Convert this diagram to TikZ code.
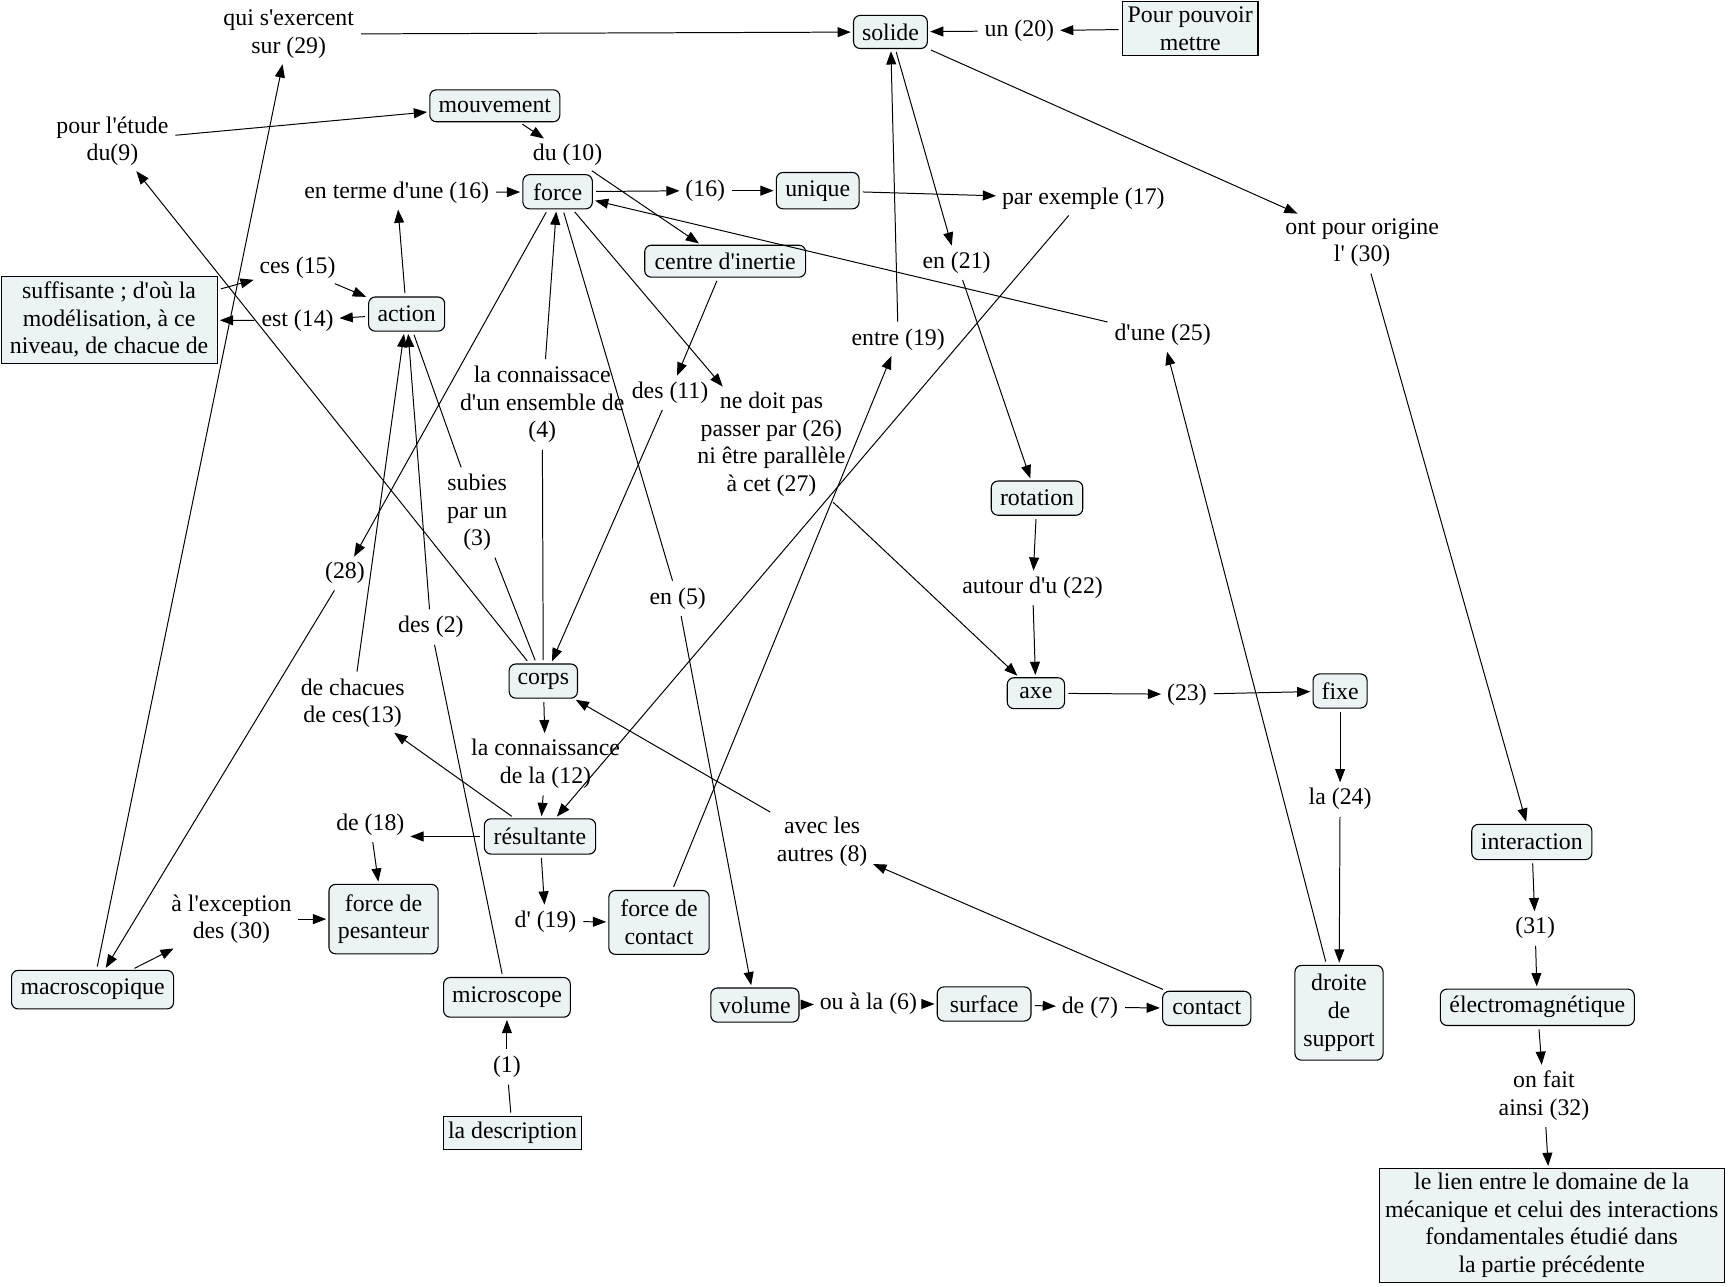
\documentclass[tikz,border=0pt]{standalone}
\usepackage{fontspec}
\setmainfont{Liberation Serif}[Ligatures=TeXOff]
\usetikzlibrary{arrows.meta}
\definecolor{boxfill}{RGB}{235,243,245}
\begin{document}
\begin{tikzpicture}[x=0.5pt,y=-0.5pt,
  every node/.style={font=\fontsize{10.8}{12.5}\selectfont, align=center, inner sep=1.5pt},
  cbox/.style={draw=black, fill=boxfill, rounded corners=3pt, line width=0.5pt, inner sep=0.5pt},
  rbox/.style={draw=black, fill=boxfill, line width=0.5pt, inner sep=0.5pt},
  arr/.style={-{Triangle[length=6pt,width=4.5pt]}, line width=0.45pt, shorten <=1.5pt, shorten >=1pt},
  ln/.style={line width=0.45pt, shorten <=1.5pt, shorten >=1.5pt}]
\path[use as bounding box, fill=white] (0,0) rectangle (1568,1167);

% concepts
\node[cbox, minimum width=33.5pt, minimum height=15pt] (solide) at (808,29) {solide};
\node[rbox, minimum width=61.5pt, minimum height=24.5pt] (pour) at (1080,26) {Pour pouvoir\\mettre};
\node[cbox, minimum width=59pt, minimum height=14.5pt] (mouv) at (449,96) {mouvement};
\node[cbox, minimum width=31.5pt, minimum height=15.5pt] (force) at (506,174) {force};
\node[cbox, minimum width=37.5pt, minimum height=16.5pt] (unique) at (742,173) {unique};
\node[cbox, minimum width=73pt, minimum height=14.5pt] (centre) at (658,237) {centre d'inertie};
\node[cbox, minimum width=34.5pt, minimum height=15.5pt] (action) at (369,285) {action};
\node[rbox, minimum width=98pt, minimum height=39.5pt] (suff) at (99,290) {suffisante ; d'où la\\modélisation, à ce\\niveau, de chacue de};
\node[cbox, minimum width=41.5pt, minimum height=15.5pt] (rot) at (941,452) {rotation};
\node[cbox, minimum width=26pt, minimum height=14pt] (axe) at (940,629) {axe};
\node[cbox, minimum width=24.5pt, minimum height=15.5pt] (fixe) at (1216,627) {fixe};
\node[cbox, minimum width=31pt, minimum height=15.5pt] (corps) at (493,618) {corps};
\node[cbox, minimum width=50.5pt, minimum height=16pt] (res) at (490,759) {résultante};
\node[cbox, minimum width=49.5pt, minimum height=31.5pt] (fdp) at (348,834) {force de\\pesanteur};
\node[cbox, minimum width=45.5pt, minimum height=29pt] (fdc) at (598,837) {force de\\contact};
\node[cbox, minimum width=73.5pt, minimum height=17.5pt] (macro) at (84,898) {macroscopique};
\node[cbox, minimum width=57.5pt, minimum height=18pt] (micro) at (460,905) {microscope};
\node[rbox, minimum width=62.5pt, minimum height=15pt] (desc) at (465,1028) {la description};
\node[cbox, minimum width=40pt, minimum height=15.5pt] (volume) at (685,912) {volume};
\node[cbox, minimum width=42.5pt, minimum height=15.5pt] (surface) at (893,911) {surface};
\node[cbox, minimum width=40pt, minimum height=15.5pt] (contact) at (1095,915) {contact};
\node[cbox, minimum width=40pt, minimum height=43pt] (droite) at (1215,919) {droite\\de\\support};
\node[cbox, minimum width=54.5pt, minimum height=16pt] (inter) at (1390,764) {interaction};
\node[cbox, minimum width=88pt, minimum height=16.5pt] (electro) at (1395,914) {électromagnétique};
\node[rbox, minimum width=156.5pt, minimum height=51.5pt] (lien) at (1408,1112) {le lien entre le domaine de la\\mécanique et celui des interactions\\fondamentales étudié dans\\la partie précédente};

% linking phrases
\node (l29) at (262,31) {qui s'exercent\\sur (29)};
\node (l20) at (925,28) {un (20)};
\node (l9) at (102,128) {pour l'étude\\du(9)};
\node (l10) at (515,140) {du (10)};
\node (l16a) at (360,175) {en terme d'une (16)};
\node (l16b) at (640,173) {(16)};
\node (l17) at (983,180) {par exemple (17)};
\node (l30a) at (1236,220) {ont pour origine\\l' (30)};
\node (l15) at (270,243) {ces (15)};
\node (l14) at (270,291) {est (14)};
\node (l21) at (868,238) {en (21)};
\node (l19a) at (815,308) {entre (19)};
\node (l25) at (1055,304) {d'une (25)};
\node (l4) at (492,367) {la connaissace\\d'un ensemble de\\(4)};
\node (l11) at (608,356) {des (11)};
\node (l26) at (700,403) {ne doit pas\\passer par (26)\\ni être parallèle\\à cet (27)};
\node (l3) at (433,465) {subies\\par un\\(3)};
\node (l28) at (313,520) {(28)};
\node (l5) at (615,543) {en (5)};
\node (l22) at (937,533) {autour d'u (22)};
\node (l2) at (391,569) {des (2)};
\node (l13) at (320,638) {de chacues\\de ces(13)};
\node (l23) at (1077,630) {(23)};
\node (l12) at (495,693) {la connaissance\\de la (12)};
\node (l24) at (1216,725) {la (24)};
\node (l18) at (336,748) {de (18)};
\node (l8) at (746,764) {avec les\\autres (8)};
\node (l30b) at (210,834) {à l'exception\\des (30)};
\node (l19b) at (495,836) {d' (19)};
\node (l31) at (1393,842) {(31)};
\node (l6) at (788,911) {ou à la (6)};
\node (l7) at (989,914) {de (7)};
\node (l1) at (460,968) {(1)};
\node (l32) at (1401,994) {on fait\\ainsi (32)};

% connectors
\draw[arr] (l29) -- (solide);
\draw[arr] (macro) -- (l29);
\draw[arr] (pour) -- (l20);
\draw[arr] (l20) -- (solide);
\draw[arr] (solide) -- (l30a);
\draw[arr] (l30a) -- (inter);
\draw[arr] (solide) -- (l21);
\draw[arr] (l21) -- (rot);
\draw[arr] (rot) -- (l22);
\draw[arr] (l22) -- (axe);
\draw[arr] (axe) -- (l23);
\draw[arr] (l23) -- (fixe);
\draw[arr] (fixe) -- (l24);
\draw[arr] (l24) -- (droite);
\draw[arr] (droite) -- (l25);
\draw[arr] (l25) -- (force);
\draw[arr] (fdc) -- (l19a);
\draw[arr] (l19a) -- (solide);
\draw[arr] (mouv) -- (l10);
\draw[arr] (l10) -- (centre);
\draw[arr] (l9) -- (mouv);
\draw[arr] (corps) -- (l9);
\draw[ln] (corps) -- (l4);
\draw[arr] (l4) -- (force);
\draw[arr] (action) -- (l16a);
\draw[arr] (l16a) -- (force);
\draw[arr] (force) -- (l16b);
\draw[arr] (l16b) -- (unique);
\draw[arr] (unique) -- (l17);
\draw[arr] (l17) -- (res);
\draw[arr] (force) -- (l26);
\draw[arr] (l26) -- (axe);
\draw[arr] (force) -- (l28);
\draw[arr] (l28) -- (macro);
\draw[ln] (force) -- (l5);
\draw[arr] (l5) -- (volume);
\draw[arr] (centre) -- (l11);
\draw[arr] (l11) -- (corps);
\draw[ln] (action) -- (l3);
\draw[ln] (l3) -- (corps);
\draw[ln] (micro) -- (l2);
\draw[arr] (l2) -- (action);
\draw[arr] (corps) -- (l12);
\draw[arr] (l12) -- (res);
\draw[arr] (res) -- (l13);
\draw[arr] (l13) -- (action);
\draw[arr] (res.west) -- (res.west -| l18.east);
\draw[arr] (l18) -- (fdp);
\draw[arr] (res) -- (l19b);
\draw[arr] (l19b) -- (fdc);
\draw[arr] (macro) -- (l30b);
\draw[arr] (l30b) -- (fdp);
\draw[arr] (contact) -- (l8);
\draw[arr] (l8) -- (corps);
\draw[arr] (volume) -- (l6);
\draw[arr] (l6) -- (surface);
\draw[arr] (surface) -- (l7);
\draw[arr] (l7) -- (contact);
\draw[arr] (suff) -- (l15);
\draw[arr] (l15) -- (action);
\draw[arr] (action) -- (l14);
\draw[arr] (l14) -- (suff);
\draw[ln] (desc) -- (l1);
\draw[arr] (l1) -- (micro);
\draw[arr] (inter) -- (l31);
\draw[arr] (l31) -- (electro);
\draw[arr] (electro) -- (l32);
\draw[arr] (l32) -- (lien);
\end{tikzpicture}
\end{document}
